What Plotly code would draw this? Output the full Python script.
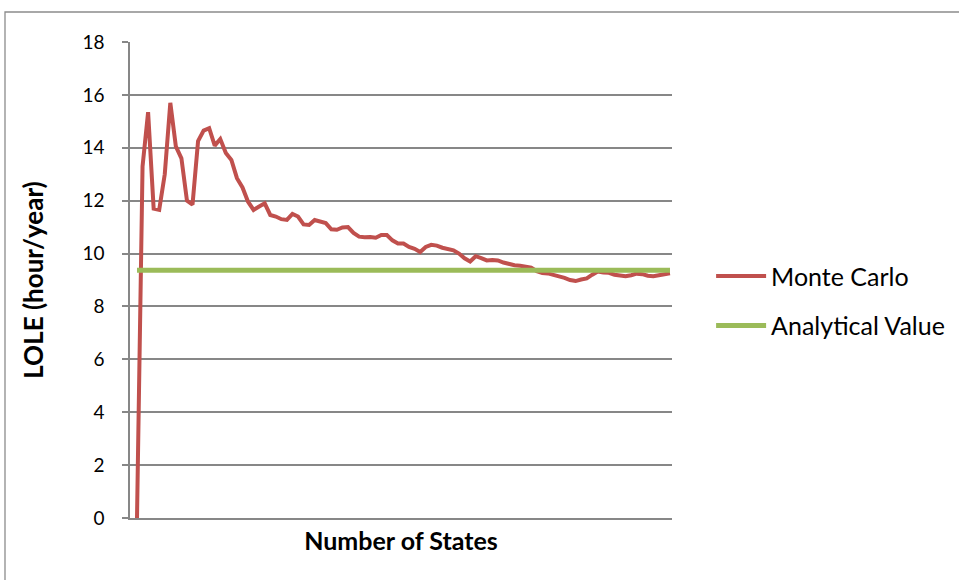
import plotly.graph_objects as go

states = list(range(1, 98))
monte_carlo = [
    0.0, 13.3, 15.35, 11.7, 11.65, 13.0, 15.7, 14.05, 13.6, 12.0,
    11.85, 14.25, 14.65, 14.74, 14.08, 14.33, 13.8, 13.54, 12.85, 12.5,
    11.96, 11.65, 11.78, 11.9, 11.46, 11.4, 11.3, 11.27, 11.5, 11.4,
    11.1, 11.08, 11.27, 11.2, 11.15, 10.92, 10.9, 10.99, 11.0, 10.78,
    10.64, 10.62, 10.63, 10.6, 10.7, 10.7, 10.5, 10.38, 10.38, 10.25,
    10.18, 10.06, 10.25, 10.33, 10.3, 10.22, 10.16, 10.12, 10.0, 9.82,
    9.7, 9.9, 9.83, 9.74, 9.76, 9.74, 9.66, 9.6, 9.56, 9.54,
    9.5, 9.47, 9.33, 9.26, 9.25, 9.2, 9.15, 9.08, 9.0, 8.96,
    9.02, 9.06, 9.2, 9.32, 9.28, 9.27, 9.2, 9.16, 9.14, 9.18,
    9.24, 9.22, 9.16, 9.14, 9.19, 9.22, 9.25,
]
analytical_value = [9.37] * len(states)
y_ticks = [0, 2, 4, 6, 8, 10, 12, 14, 16, 18]

FONT = "Lato"
GRID = "#878787"

fig = go.Figure()
fig.add_trace(go.Scatter(
    x=states, y=monte_carlo, mode="lines", name="Monte Carlo",
    line=dict(color="#C0504D", width=4), legendgroup="a",
))
fig.add_trace(go.Scatter(
    x=states, y=analytical_value, mode="lines", name="Analytical Value",
    line=dict(color="#9BBB59", width=5), legendgroup="b",
))

W, H = 959, 580
L, R, T, B = 130, 287, 42, 62
PW, PH = W - L - R, H - T - B

fig.update_layout(
    width=W, height=H,
    margin=dict(l=L, r=R, t=T, b=B, autoexpand=False),
    paper_bgcolor="white", plot_bgcolor="white",
    font=dict(family=FONT, size=16, color="black"),
    showlegend=True,
    legend=dict(
        xref="container", yref="container",
        x=0.7415, y=0.5633, xanchor="left", yanchor="top",
        traceorder="grouped", tracegroupgap=14,
        font=dict(family=FONT, size=25, color="black"),
        itemwidth=50, bgcolor="rgba(0,0,0,0)",
    ),
    xaxis=dict(
        range=[1 - 7 / 5.553, 97 + 2 / 5.553],
        showticklabels=False, showgrid=False, zeroline=False,
        showline=True, linecolor=GRID, linewidth=1.5,
        ticks="", fixedrange=True,
        title=dict(text="<b>Number of States</b>", font=dict(family=FONT, size=25), standoff=14),
    ),
    yaxis=dict(
        range=[0, 18], tickvals=y_ticks, ticktext=[str(v) for v in y_ticks],
        showgrid=True, gridcolor=GRID, gridwidth=1.5,
        zeroline=False, showline=True, linecolor=GRID, linewidth=1.5,
        ticks="outside", ticklen=6, tickcolor=GRID, tickwidth=1.5,
        ticklabelstandoff=14, fixedrange=True,
        tickfont=dict(family=FONT, size=19),
        title=dict(text="<b>LOLE (hour/year)</b>", font=dict(family=FONT, size=26), standoff=31),
    ),
    shapes=[dict(
        type="rect", xref="paper", yref="paper",
        x0=(5 - L) / PW, x1=(964 - L) / PW,
        y0=(H - B - 590) / PH, y1=(H - B - 12) / PH,
        line=dict(color="#8c8c8c", width=1.3), fillcolor="rgba(0,0,0,0)", layer="below",
    )],
)

fig.write_html(
    "out.html",
    config={"displayModeBar": False},
    post_script="document.body.style.margin='0';document.body.style.overflow='hidden';",
)
